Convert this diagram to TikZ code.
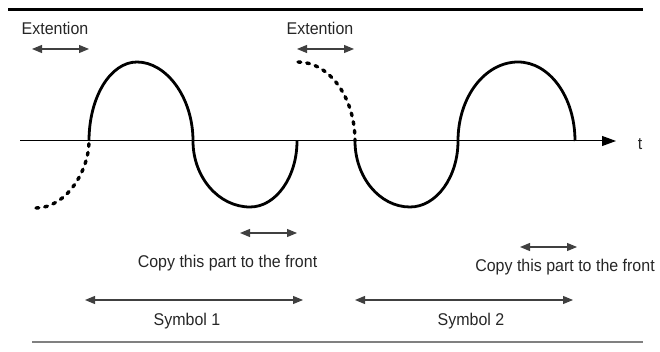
\documentclass[tikz,border=0pt]{standalone}
\usepackage{fontspec}
\setmainfont{Liberation Sans}[FakeStretch=0.94]
\usetikzlibrary{arrows.meta}

\begin{document}
\begin{tikzpicture}[
  x=1pt, y=-1pt,
  wave/.style={line width=2.8pt},
  ext/.style={line width=3.4pt, line cap=round, dash pattern=on 2.8pt off 6pt},
  dimarr/.style={{Triangle[length=10pt,width=8pt]}-{Triangle[length=10pt,width=8pt]}, line width=1.1pt, draw=black!75, fill=black},
  lbl/.style={anchor=base, inner sep=0pt, font=\fontsize{17}{20}\selectfont, text=black!85}]
\useasboundingbox (0,0) rectangle (660,352);
\draw[line width=3pt] (8,9.5) -- (643,9.5);
\draw[line width=1.5pt, gray] (32,342) -- (643,342);
\coordinate (ax0) at (20,141);
\coordinate (ax1) at (616,141);
\draw[line width=1pt, -{Triangle[length=14pt,width=10pt]}] (ax0) -- (ax1);
\node[lbl] (t) at (640,150) {t};
\coordinate (a0) at (89,141);
\coordinate (a1) at (137,62);
\coordinate (a2) at (193,141);
\coordinate (a3) at (250,207);
\coordinate (a4) at (297,141);
\coordinate (e0) at (36,208);
\draw[ext] (e0) .. controls (66,208) and (89,171) .. (a0);
\draw[wave] (a0) .. controls (89,97) and (110.5,62) .. (a1) .. controls (166,62) and (193,97) .. (a2)
  .. controls (193,177) and (218.5,207) .. (a3) .. controls (276,207) and (297,177) .. (a4);
\coordinate (b0) at (355,141);
\coordinate (b1) at (410,207);
\coordinate (b2) at (458,141);
\coordinate (b3) at (518,62);
\coordinate (b4) at (575,141);
\coordinate (e1) at (298,62);
\draw[ext] (e1) .. controls (329,62) and (355,97) .. (b0);
\draw[wave] (b0) .. controls (355,177) and (379.5,207) .. (b1) .. controls (436.5,207) and (458,177) .. (b2)
  .. controls (458,97) and (485,62) .. (b3) .. controls (549.5,62) and (575,97) .. (b4);
\coordinate (x1l) at (32,49);
\coordinate (x1r) at (89,49);
\coordinate (x2l) at (297,49);
\coordinate (x2r) at (354,49);
\coordinate (c1l) at (240,233);
\coordinate (c1r) at (297,233);
\coordinate (c2l) at (520,247);
\coordinate (c2r) at (577,247);
\coordinate (s1l) at (85,300);
\coordinate (s1r) at (303,300);
\coordinate (s2l) at (355,300);
\coordinate (s2r) at (573,300);
\draw[dimarr] (x1l) -- (x1r);
\draw[dimarr] (x2l) -- (x2r);
\draw[dimarr] (c1l) -- (c1r);
\draw[dimarr] (c2l) -- (c2r);
\draw[dimarr] (s1l) -- (s1r);
\draw[dimarr] (s2l) -- (s2r);
\node[lbl] (ext1) at (55,35) {Extention};
\node[lbl] (ext2) at (320,35) {Extention};
\node[lbl] (cp1) at (227.5,267) {Copy this part to the front};
\node[lbl] (cp2) at (565,271) {Copy this part to the front};
\node[lbl] (sym1) at (187,325) {Symbol 1};
\node[lbl] (sym2) at (471,325) {Symbol 2};
\end{tikzpicture}
\end{document}
